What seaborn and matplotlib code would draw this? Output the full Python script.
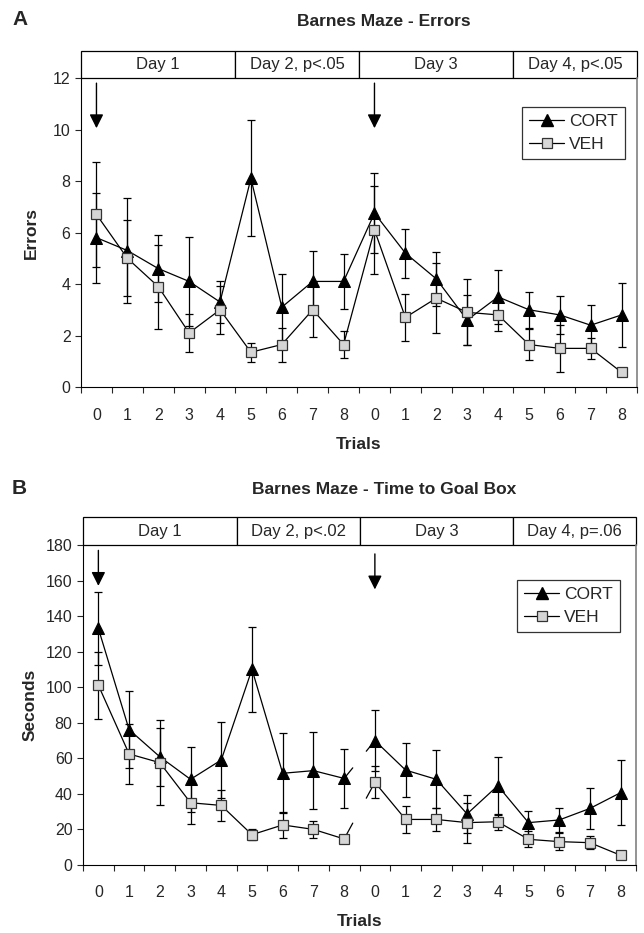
import matplotlib
matplotlib.use("Agg")
import matplotlib.pyplot as plt
import matplotlib.transforms as mtransforms
from matplotlib.lines import Line2D
from matplotlib.patches import Rectangle
import pandas as pd
import seaborn as sns

# x tick labels: trial number within each pair of days
trials = [0, 1, 2, 3, 4, 5, 6, 7, 8, 0, 1, 2, 3, 4, 5, 6, 7, 8]
groups = ["CORT", "VEH"]

errors_days = ["Day 1", "Day 2, p<.05", "Day 3", "Day 4, p<.05"]
time_days = ["Day 1", "Day 2, p<.02", "Day 3", "Day 4, p=.06"]
# day boundaries between trial positions
day_edges = [-0.5, 4.5, 8.5, 13.5, 17.5]

errors_cort = [5.8, 5.3, 4.6, 4.1, 3.3, 8.1, 3.1, 4.1, 4.1, 6.75, 5.2, 4.2, 2.6, 3.5, 3.0, 2.8, 2.4, 2.8]
errors_cort_se = [1.75, 2.05, 1.3, 1.73, 0.8, 2.25, 1.3, 1.17, 1.06, 1.55, 0.95, 1.05, 0.97, 1.06, 0.7, 0.73, 0.78, 1.25]
errors_veh = [6.7, 5.0, 3.9, 2.1, 3.0, 1.35, 1.65, 3.0, 1.65, 6.1, 2.7, 3.45, 2.9, 2.8, 1.65, 1.5, 1.5, 0.57]
errors_veh_se = [2.05, 1.47, 1.63, 0.73, 0.94, 0.37, 0.66, 1.07, 0.53, 1.7, 0.93, 1.35, 1.28, 0.64, 0.62, 0.9, 0.4, 0.12]

time_cort = [133, 76, 60.7, 48, 58.9, 110, 51.4, 52.9, 48.5, 69.8, 53.2, 48, 28.5, 44.4, 23.6, 25.1, 31.6, 40.5]
time_cort_se = [20.6, 21.5, 16.3, 18.4, 21.4, 24, 22.5, 21.5, 16.7, 17.2, 15, 16.4, 10.7, 16.4, 6.8, 7, 11.5, 18.5]
time_veh = [101, 62.3, 57.4, 34.8, 33.3, 16.8, 22.3, 19.8, 14.4, 46.3, 25.4, 25.4, 23.6, 24.1, 14.2, 12.9, 12.3, 5.2]
time_veh_se = [19, 17, 23.9, 12, 8.6, 3, 7.4, 4.7, 2.5, 9, 7.7, 6.7, 11.2, 4.5, 4.5, 5, 3.5, 1]

# injection arrows: (position, start, tip)
errors_arrows = [(0, 11.8, 10.05), (9, 11.8, 10.05)]
time_arrows = [(0, 177, 157), (9, 175, 155)]

sns.set_style("ticks")
plt.rcParams["font.family"] = ["Liberation Sans", "DejaVu Sans"]

STYLE = {
    "CORT": dict(marker="^", markersize=8, markerfacecolor="black", markeredgecolor="black"),
    "VEH": dict(marker="s", markersize=7.5, markerfacecolor="#d6d6d6", markeredgecolor="#333333",
                markeredgewidth=0.9),
}


def make_frame(cort, cort_se, veh, veh_se, split):
    rows = []
    for group, vals, errs in [("CORT", cort, cort_se), ("VEH", veh, veh_se)]:
        for i, (v, e) in enumerate(zip(vals, errs)):
            seg = 0 if (split is None or i < split) else 1
            rows.append({"pos": i, "value": v, "se": e, "group": group, "segment": seg})
    return pd.DataFrame(rows)


def draw_panel(ax, frame, ymax, ystep, days, arrows, legend_box, split=None):
    for group in groups:
        sub = frame[frame["group"] == group]
        ax.errorbar(sub["pos"], sub["value"], yerr=sub["se"], fmt="none", ecolor="black",
                    elinewidth=0.9, capsize=3, capthick=0.9, zorder=2)
        if split is not None:
            # short stubs left where the line is broken between day 2 and day 3
            a = sub[sub["pos"] == split - 1].iloc[0]
            b = sub[sub["pos"] == split].iloc[0]
            f = 0.28
            for p, q in [(a, b), (b, a)]:
                ax.plot([p["pos"], p["pos"] + f * (q["pos"] - p["pos"])],
                        [p["value"], p["value"] + f * (q["value"] - p["value"])],
                        color="black", linewidth=0.9, zorder=2.5)
        sns.lineplot(data=sub, x="pos", y="value", units="segment", estimator=None,
                     color="black", linewidth=0.9, legend=False, ax=ax, zorder=3,
                     **STYLE[group])

    ax.set_xlim(-0.5, 17.5)
    ax.set_ylim(0, ymax)
    ax.set_xticks(range(len(trials)))
    ax.set_xticklabels(trials)
    ax.set_xticks([x - 0.5 for x in range(len(trials) + 1)], minor=True)
    ax.set_yticks(range(0, ymax + 1, ystep))
    ax.tick_params(axis="x", which="major", length=0, pad=15, labelsize=11.5)
    ax.tick_params(axis="x", which="minor", length=4.5, width=0.8, direction="out")
    ax.tick_params(axis="y", length=4.5, width=0.8, direction="out", pad=3, labelsize=11.5)
    ax.set_xlabel("Trials", fontsize=12.5, fontweight="bold", labelpad=10)
    for side in ["left", "bottom"]:
        ax.spines[side].set_color("black")
        ax.spines[side].set_linewidth(0.8)
    ax.spines["right"].set_visible(True)
    ax.spines["right"].set_color("#808080")
    ax.spines["right"].set_linewidth(1.2)
    ax.spines["top"].set_visible(False)

    # day header boxes above the plot
    trans = mtransforms.blended_transform_factory(ax.transData, ax.transAxes)
    h = 0.088
    for i, label in enumerate(days):
        x0, x1 = day_edges[i], day_edges[i + 1]
        ax.add_patch(Rectangle((x0, 1.0), x1 - x0, h, transform=trans, clip_on=False,
                               facecolor="white", edgecolor="black", linewidth=0.9))
        ax.text((x0 + x1) / 2, 1.0 + h / 2, label, transform=trans, ha="center", va="center",
                fontsize=12)

    for x, y0, y1 in arrows:
        ax.annotate("", xy=(x, y1), xytext=(x, y0),
                    arrowprops=dict(arrowstyle="-|>", color="black", lw=1.0, mutation_scale=21,
                                    shrinkA=0, shrinkB=0))

    handles = [Line2D([0], [0], color="black", linewidth=0.9, **STYLE[g]) for g in groups]
    leg = ax.legend(handles, groups, loc="upper right", bbox_to_anchor=legend_box,
                    frameon=True, fancybox=False, fontsize=12.5, handlelength=2.0,
                    handletextpad=0.3, borderpad=0.4, labelspacing=0.45, borderaxespad=0)
    leg.get_frame().set_edgecolor("black")
    leg.get_frame().set_linewidth(0.9)


fig = plt.figure(figsize=(6.44, 9.33), dpi=100)
ax_a = fig.add_axes([0.1258, 0.5852, 0.8634, 0.3312])
ax_b = fig.add_axes([0.1289, 0.0734, 0.8587, 0.3424])

errors_df = make_frame(errors_cort, errors_cort_se, errors_veh, errors_veh_se, None)
time_df = make_frame(time_cort, time_cort_se, time_veh, time_veh_se, 9)

draw_panel(ax_a, errors_df, 12, 2, errors_days, errors_arrows, (0.978, 0.905))
ax_a.set_ylabel("Errors", fontsize=12.5, fontweight="bold", labelpad=10)
draw_panel(ax_b, time_df, 180, 20, time_days, time_arrows, (0.971, 0.89), split=9)
ax_b.set_ylabel("Seconds", fontsize=12.5, fontweight="bold", labelpad=6)

title_font = dict(fontsize=12.5, fontweight="bold")
fig.text(0.596, 0.977, "Barnes Maze - Errors", ha="center", va="center", **title_font)
fig.text(0.597, 0.475, "Barnes Maze - Time to Goal Box", ha="center", va="center", **title_font)
fig.text(0.031, 0.979, "A", ha="center", va="center", fontsize=15, fontweight="bold")
fig.text(0.030, 0.476, "B", ha="center", va="center", fontsize=15, fontweight="bold")

fig.savefig("out.png", dpi=100)
